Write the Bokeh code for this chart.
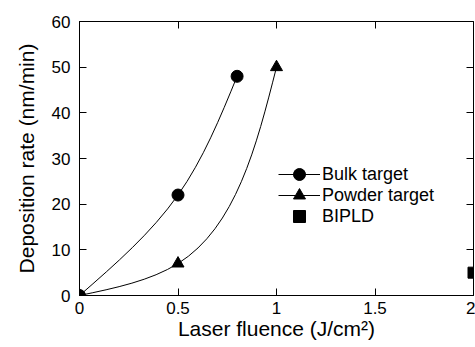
import numpy as np
from bokeh.plotting import figure
from bokeh.models import (LinearAxis, FixedTicker, Range1d, Legend, LegendItem,
                          ColumnDataSource)
from bokeh.embed import file_html
from bokeh.resources import INLINE

# ---- data ----
bulk_fluence = [0.0, 0.5, 0.8]
bulk_rate = [0.0, 22.0, 48.0]
powder_fluence = [0.0, 0.5, 1.0]
powder_rate = [0.0, 7.0, 50.0]
bipld_fluence = [2.0]
bipld_rate = [5.0]

series_names = ["Bulk target", "Powder target", "BIPLD"]

x_ticks = [0, 0.5, 1, 1.5, 2]
x_tick_labels = ["0", "0.5", "1", "1.5", "2"]
y_ticks = [0, 10, 20, 30, 40, 50, 60]
y_tick_labels = ["0", "10", "20", "30", "40", "50", "60"]

FONT = "Liberation Sans"
W, H = 475, 347
BL, BR, BT, BB = 79, 2, 21, 52
X0, X1, Y0, Y1 = 0, 2, 0, 60


def smooth_beziers(xs, ys, sx, sy):
    """Natural parametric cubic spline (chord-length, screen space) as bezier segments."""
    px = np.asarray(xs, float) * sx
    py = np.asarray(ys, float) * sy
    h = np.hypot(np.diff(px), np.diff(py))
    n = len(px)

    def second(v):
        A = np.zeros((n, n))
        b = np.zeros(n)
        A[0, 0] = A[-1, -1] = 1.0
        d = np.diff(v) / h
        for i in range(1, n - 1):
            A[i, i - 1] = h[i - 1]
            A[i, i] = 2 * (h[i - 1] + h[i])
            A[i, i + 1] = h[i]
            b[i] = 6 * (d[i] - d[i - 1])
        return np.linalg.solve(A, b), d

    out = {k: [] for k in ("x0", "y0", "x1", "y1", "cx0", "cy0", "cx1", "cy1")}
    Mx, dx = second(px)
    My, dy = second(py)
    for i in range(n - 1):
        s0x = dx[i] - h[i] * (2 * Mx[i] + Mx[i + 1]) / 6
        s0y = dy[i] - h[i] * (2 * My[i] + My[i + 1]) / 6
        s1x = dx[i] + h[i] * (Mx[i] + 2 * Mx[i + 1]) / 6
        s1y = dy[i] + h[i] * (My[i] + 2 * My[i + 1]) / 6
        out["x0"].append(px[i] / sx)
        out["y0"].append(py[i] / sy)
        out["x1"].append(px[i + 1] / sx)
        out["y1"].append(py[i + 1] / sy)
        out["cx0"].append((px[i] + h[i] / 3 * s0x) / sx)
        out["cy0"].append((py[i] + h[i] / 3 * s0y) / sy)
        out["cx1"].append((px[i + 1] - h[i] / 3 * s1x) / sx)
        out["cy1"].append((py[i + 1] - h[i] / 3 * s1y) / sy)
    return ColumnDataSource(out)


p = figure(width=W, height=H, output_backend="svg", toolbar_location=None,
           x_range=Range1d(X0, X1), y_range=Range1d(Y0, Y1),
           min_border_left=BL, min_border_right=BR, min_border_top=BT,
           min_border_bottom=BB,
           x_axis_label="Laser fluence (J/cm\u00b2)",
           y_axis_label="Deposition rate (nm/min)")
p.grid.visible = False
p.outline_line_color = "black"
p.outline_line_width = 1
p.background_fill_color = "white"
p.border_fill_color = "white"


def style_axis(ax, ticks, labels, show_labels=True):
    ax.ticker = FixedTicker(ticks=ticks)
    ax.major_label_overrides = {t: l for t, l in zip(ticks, labels)}
    ax.major_tick_in = 7
    ax.major_tick_out = 0
    ax.major_tick_line_color = "black"
    ax.minor_tick_line_color = None
    ax.axis_line_color = "black"
    ax.major_label_text_font = FONT
    ax.major_label_text_color = "black"
    ax.axis_label_text_font = FONT
    ax.axis_label_text_font_style = "normal"
    ax.axis_label_text_color = "black"
    ax.axis_label_text_font_size = "21px"
    if show_labels:
        ax.major_label_text_font_size = "17px"
    else:
        ax.major_label_text_font_size = "0px"
        ax.major_label_standoff = 0
        ax.axis_line_color = None


style_axis(p.xaxis[0], x_ticks, x_tick_labels)
style_axis(p.yaxis[0], y_ticks, y_tick_labels)
p.xaxis[0].major_label_standoff = 6
p.xaxis[0].axis_label_standoff = 0
p.yaxis[0].major_label_standoff = 9
p.yaxis[0].axis_label_standoff = 11

top = LinearAxis()
right = LinearAxis()
style_axis(top, x_ticks, ["" for _ in x_ticks], show_labels=False)
style_axis(right, y_ticks, ["" for _ in y_ticks], show_labels=False)
p.add_layout(top, "above")
p.add_layout(right, "right")

sx = (W - BL - BR) / (X1 - X0)
sy = (H - BT - BB) / (Y1 - Y0)

bulk_src = smooth_beziers(bulk_fluence, bulk_rate, sx, sy)
powder_src = smooth_beziers(powder_fluence, powder_rate, sx, sy)

bulk_curve = p.bezier(x0="x0", y0="y0", x1="x1", y1="y1", cx0="cx0", cy0="cy0",
                      cx1="cx1", cy1="cy1", source=bulk_src, line_color="black",
                      line_width=1)
powder_curve = p.bezier(x0="x0", y0="y0", x1="x1", y1="y1", cx0="cx0", cy0="cy0",
                        cx1="cx1", cy1="cy1", source=powder_src, line_color="black",
                        line_width=1)
bulk_pts = p.scatter(bulk_fluence, bulk_rate, marker="circle", size=12,
                     color="black")
powder_pts = p.scatter(powder_fluence, powder_rate, marker="triangle", size=12,
                       color="black")
bipld_pts = p.scatter(bipld_fluence, bipld_rate, marker="square", size=11,
                      color="black")

entries = [
    (series_names[0], [bulk_curve, bulk_pts], 106),
    (series_names[1], [powder_curve, powder_pts], 85),
    (series_names[2], [bipld_pts], 64),
]
for name, rends, ypos in entries:
    lg = Legend(items=[LegendItem(label=name, renderers=rends)],
                location=(199, ypos), glyph_width=42, glyph_height=30,
                label_standoff=2, padding=0, margin=0, border_line_color=None,
                background_fill_alpha=0, label_text_font=FONT,
                label_text_font_size="18px", label_text_color="black")
    p.add_layout(lg)

open("out.html", "w").write(file_html(p, INLINE))
